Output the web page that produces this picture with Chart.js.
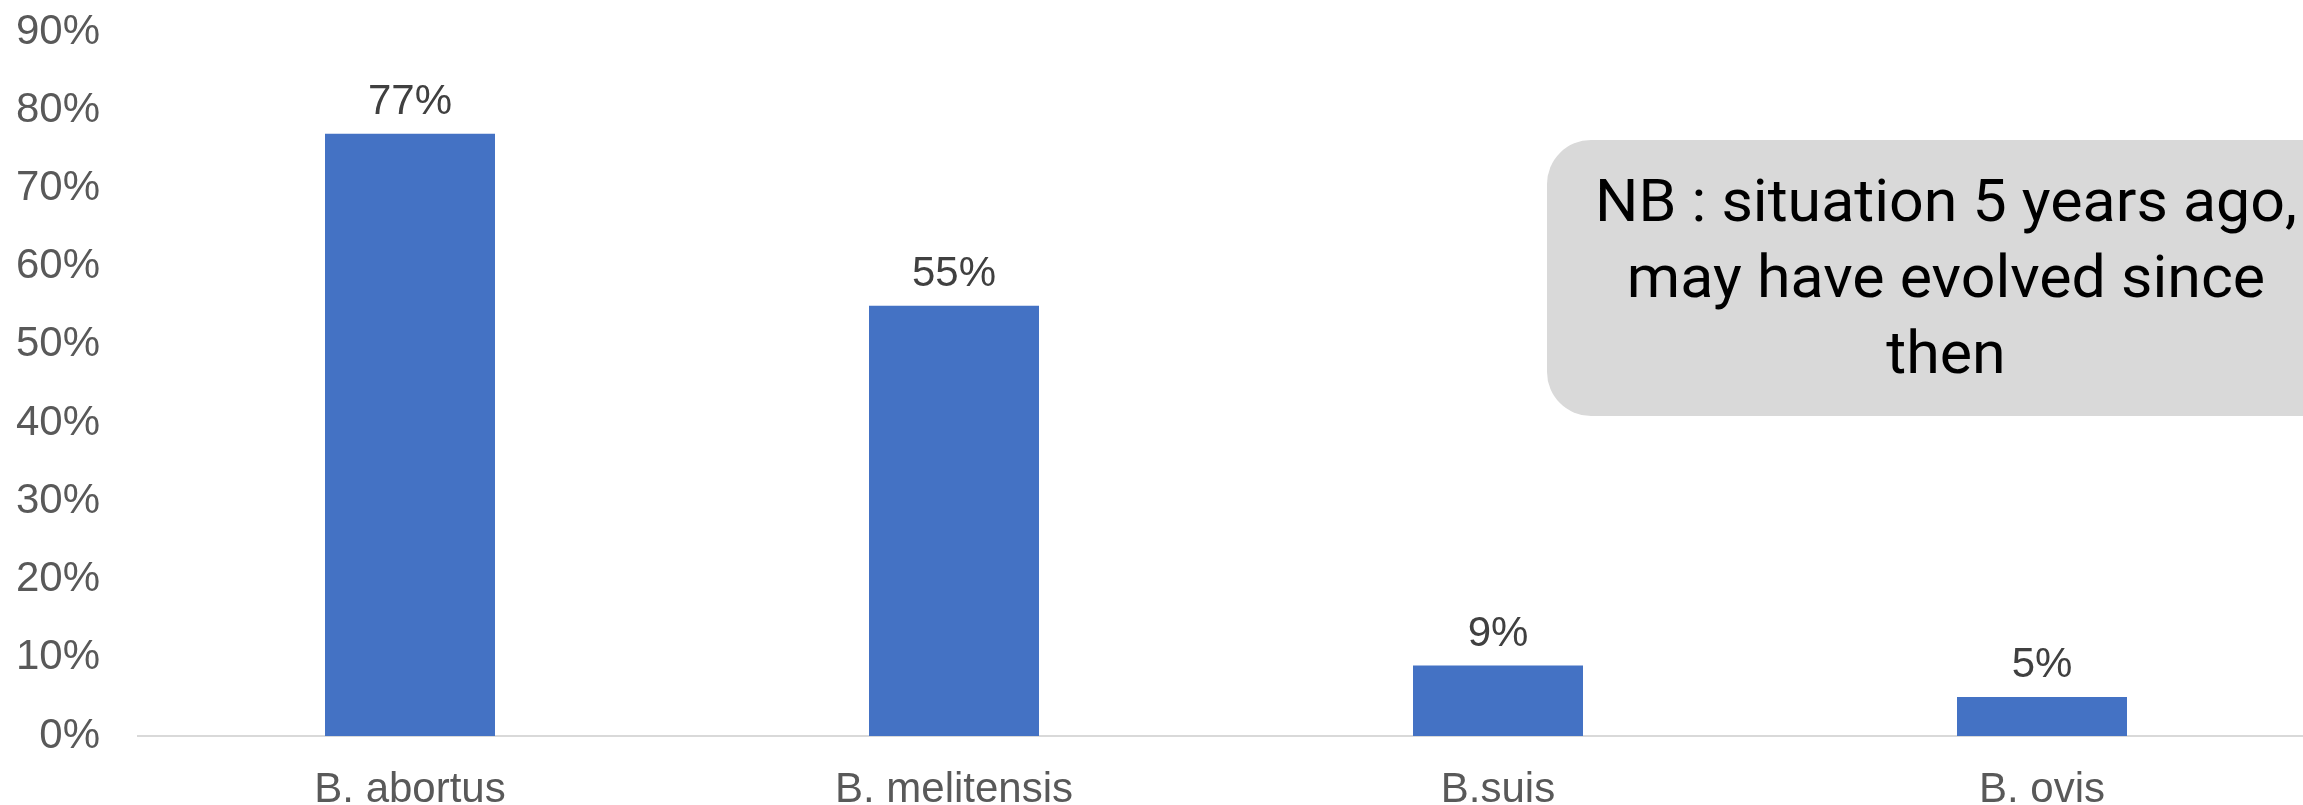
<!DOCTYPE html>
<html>
<head>
<meta charset="utf-8">
<title>Brucella species</title>
<script src="https://cdn.jsdelivr.net/npm/chart.js@4.4.0/dist/chart.umd.min.js"></script>
<style>
  html, body { margin: 0; padding: 0; background: #fff; overflow: hidden; }
  #wrap { width: 2320px; height: 805px; }
</style>
</head>
<body>
<div id="wrap"><canvas id="speciesChart" width="2320" height="805"></canvas></div>
<script>
const species = ["B. abortus", "B. melitensis", "B.suis", "B. ovis"];
const shares = [77, 55, 9, 5];
const yTickValues = [0, 10, 20, 30, 40, 50, 60, 70, 80, 90];
const noteLines = ["NB : situation 5 years ago,", "may have evolved since", "then"];

const labelFont = "Liberation Sans, Arial, sans-serif";

// value labels above each bar
const barValues = {
  id: "barValues",
  afterDatasetsDraw(chart) {
    const ctx = chart.ctx;
    const meta = chart.getDatasetMeta(0);
    ctx.save();
    ctx.font = "42px " + labelFont;
    ctx.fillStyle = "#404040";
    ctx.textAlign = "center";
    ctx.textBaseline = "alphabetic";
    meta.data.forEach((bar, i) => {
      ctx.fillText(shares[i] + "%", bar.x, bar.y - 20);
    });
    ctx.restore();
  },
};

// grey rounded note box on the right
const noteBox = {
  id: "noteBox",
  afterDraw(chart) {
    const ctx = chart.ctx;
    const x = 1547, y = 140, w = 800, h = 276, r = 44;
    ctx.save();
    ctx.fillStyle = "#d9d9d9";
    ctx.beginPath();
    ctx.roundRect(x, y, w, h, r);
    ctx.fill();

    ctx.font = "59px Roboto, sans-serif";
    ctx.fillStyle = "#000";
    ctx.textAlign = "center";
    ctx.textBaseline = "alphabetic";
    const sx = 702 / ctx.measureText(noteLines[0]).width;
    ctx.translate(1946, 0);
    ctx.scale(sx, 1);
    noteLines.forEach((line, i) => {
      ctx.fillText(line, 0, 221 + i * 76);
    });
    ctx.restore();
  },
};

const ctx = document.getElementById("speciesChart").getContext("2d");
const speciesChart = new Chart(ctx, {
  type: "bar",
  data: {
    labels: species,
    datasets: [
      {
        data: shares,
        backgroundColor: "#4472c4",
        barPercentage: 1,
        categoryPercentage: 0.3125,
      },
    ],
  },
  options: {
    responsive: false,
    animation: false,
    devicePixelRatio: 1,
    layout: {
      padding: { top: 32, left: 16, right: 6, bottom: 0 },
    },
    plugins: {
      legend: { display: false },
      tooltip: { enabled: false },
    },
    scales: {
      x: {
        grid: { display: false, drawTicks: false },
        border: { display: true, color: "#d9d9d9", width: 2 },
        ticks: {
          color: "#595959",
          padding: 33,
          font: { family: labelFont, size: 42, lineHeight: 1 },
        },
        // tick padding gets counted twice otherwise
        afterFit: (s) => {
          s.height = 69;
          s.paddingLeft = 0;
          s.paddingRight = 0;
        },
      },
      y: {
        min: 0,
        max: 90,
        afterBuildTicks: (axis) => {
          axis.ticks = yTickValues.map((v) => ({ value: v }));
        },
        grid: { display: false, drawTicks: false },
        border: { display: false },
        ticks: {
          color: "#595959",
          padding: 38,
          font: { family: labelFont, size: 42 },
          callback: (v) => v + "%",
        },
        afterFit: (s) => {
          s.width = 122;
          s.paddingTop = 0;
          s.paddingBottom = 0;
        },
      },
    },
  },
  plugins: [barValues, noteBox],
});
</script>
</body>
</html>
